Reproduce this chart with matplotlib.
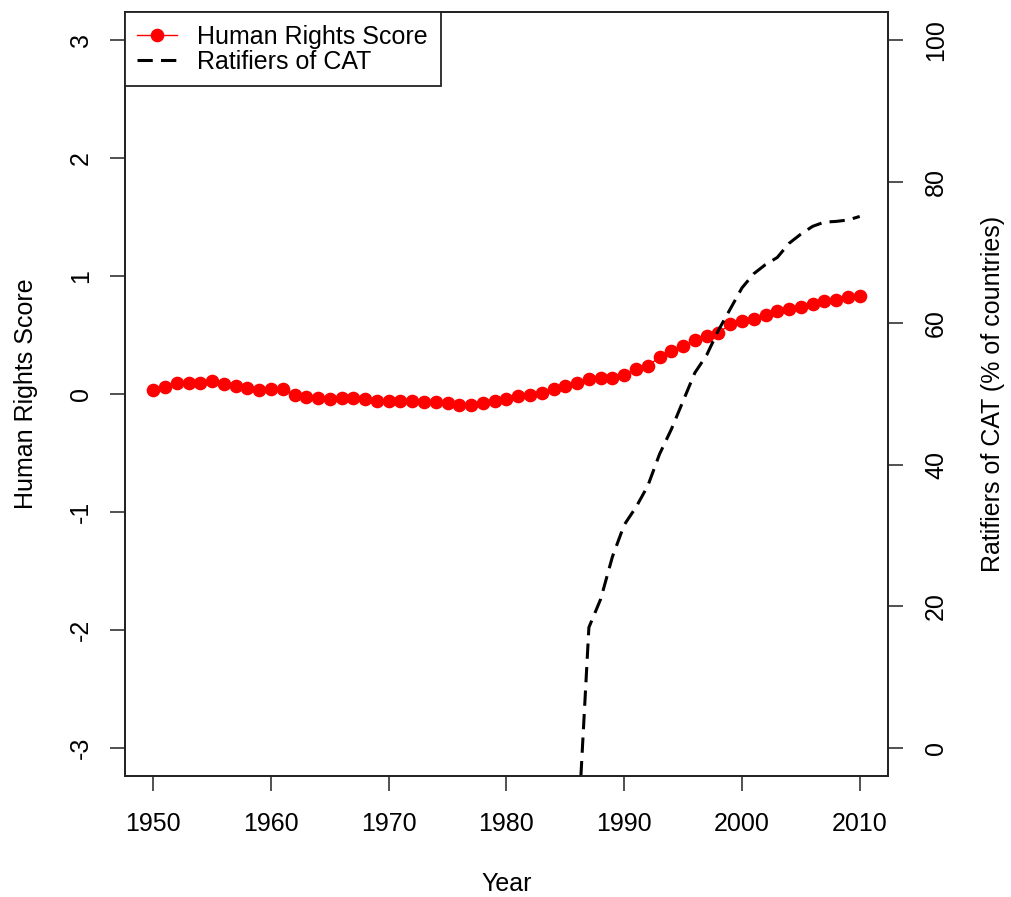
import matplotlib
matplotlib.use("Agg")
import matplotlib.pyplot as plt
import numpy as np

plt.rcParams['font.family'] = ['Liberation Sans', 'DejaVu Sans']
plt.rcParams['axes.unicode_minus'] = False

# human rights score, 1950-2010
years = np.arange(1950, 2011)
hr_score = [0.03, 0.056, 0.09, 0.09, 0.095, 0.11, 0.084, 0.067, 0.048, 0.034,
            0.04, 0.04, -0.008, -0.028, -0.036, -0.04, -0.03, -0.03, -0.045, -0.056,
            -0.06, -0.056, -0.06, -0.07, -0.07, -0.08, -0.093, -0.09, -0.08, -0.06,
            -0.045, -0.02, -0.01, 0.01, 0.04, 0.067, 0.095, 0.124, 0.14, 0.14,
            0.163, 0.21, 0.24, 0.31, 0.365, 0.41, 0.455, 0.49, 0.52, 0.59,
            0.62, 0.64, 0.674, 0.70, 0.725, 0.74, 0.764, 0.786, 0.80, 0.82,
            0.83]

# ratifiers of CAT (% of countries)
cat_years = np.arange(1986, 2011)
cat_pct = [-14, 17, 21, 27, 31.5, 34, 37, 41.5, 45, 49,
           53, 55.5, 59, 62, 65, 67, 68.3, 69.3, 71.3, 72.6,
           73.7, 74.3, 74.4, 74.6, 75.1]

fs = 18

fig = plt.figure(figsize=(10.11, 8.97), dpi=100)
ax = fig.add_axes([0.1236, 0.1349, 0.7547, 0.8517])

l1, = ax.plot(years, hr_score, color="red", marker="o", markersize=8.8,
              linewidth=1, label="Human Rights Score")
ax.set_xlim(1947.6, 2012.4)
ax.set_ylim(-3.24, 3.24)
ax.set_xticks([1950, 1960, 1970, 1980, 1990, 2000, 2010])
ax.set_yticks([-3, -2, -1, 0, 1, 2, 3])
ax.set_xlabel("Year", fontsize=fs, labelpad=26)
ax.set_ylabel("Human Rights Score", fontsize=fs, labelpad=22)
ax.tick_params(axis="both", labelsize=fs, length=11, width=1.2, color="#333333")
ax.tick_params(axis="x", pad=15)
ax.tick_params(axis="y", pad=12)
for lab in ax.get_yticklabels():
    lab.set_rotation(90)
    lab.set_va("center")

ax2 = ax.twinx()
l2, = ax2.plot(cat_years, cat_pct, color="black", linestyle=(0, (5, 2.7)),
               linewidth=2.2, label="Ratifiers of CAT")
ax2.set_ylim(-4, 104)
ax2.set_yticks([0, 20, 40, 60, 80, 100])
ax2.set_ylabel("Ratifiers of CAT (% of countries)", fontsize=fs, labelpad=24)
ax2.tick_params(axis="y", labelsize=fs, length=11, width=1.2, pad=15,
                color="#333333")
for lab in ax2.get_yticklabels():
    lab.set_rotation(90)
    lab.set_va("center")

for a in (ax, ax2):
    for s in a.spines.values():
        s.set_linewidth(1.3)
        s.set_color("#222222")

leg = ax2.legend(handles=[l1, l2], loc="upper left", bbox_to_anchor=(0, 1),
                 borderaxespad=0, fontsize=fs, fancybox=False, framealpha=1,
                 edgecolor="#222222", handlelength=1.6, handletextpad=0.8,
                 labelspacing=0.05, borderpad=0.5)
leg.get_frame().set_linewidth(1.3)

fig.savefig("out.png", dpi=100)
